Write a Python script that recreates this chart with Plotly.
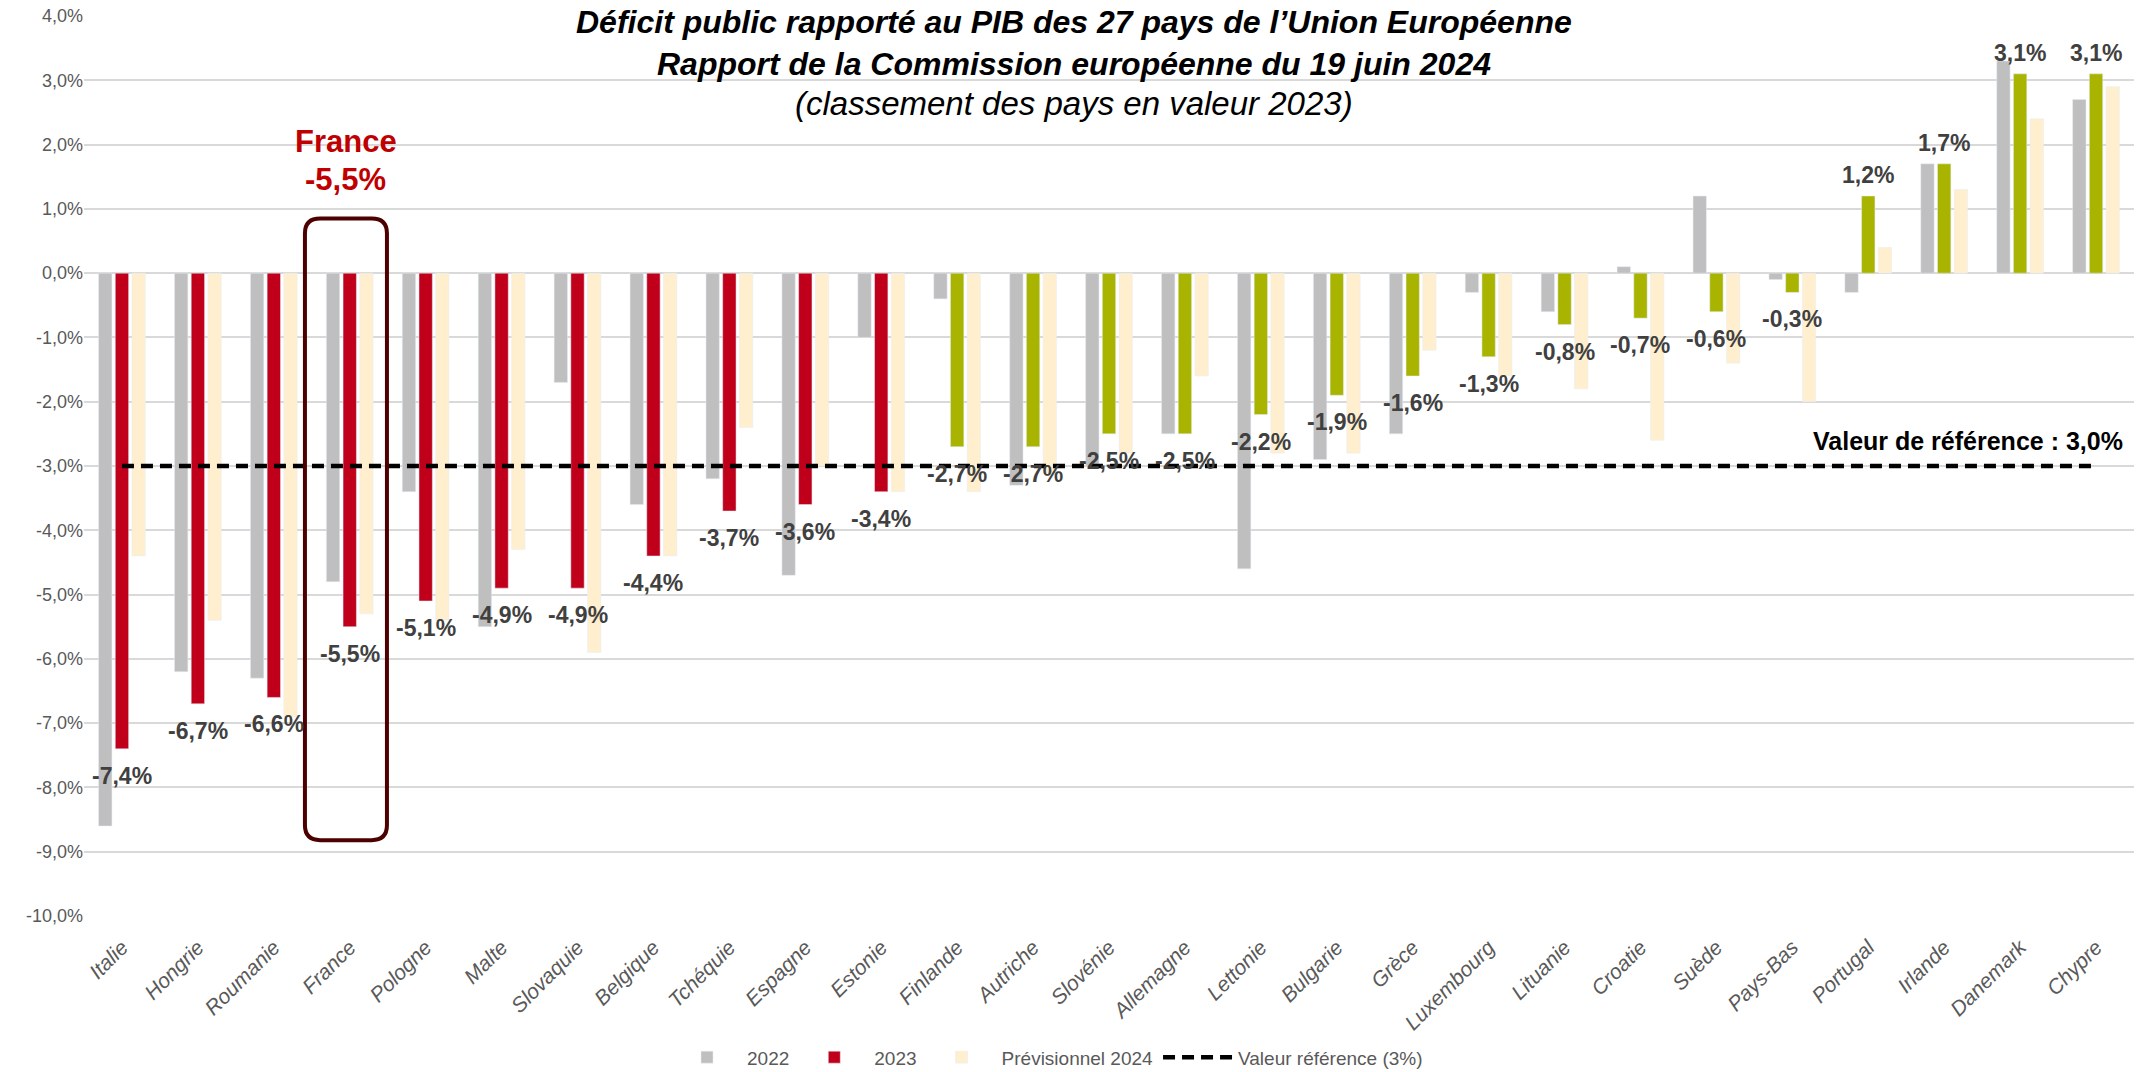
import plotly.graph_objects as go

# Déficit public (% du PIB) des 27 pays de l'UE, classés selon 2023
pays = ["Italie", "Hongrie", "Roumanie", "France", "Pologne", "Malte", "Slovaquie",
        "Belgique", "Tchéquie", "Espagne", "Estonie", "Finlande", "Autriche", "Slovénie",
        "Allemagne", "Lettonie", "Bulgarie", "Grèce", "Luxembourg", "Lituanie", "Croatie",
        "Suède", "Pays-Bas", "Portugal", "Irlande", "Danemark", "Chypre"]
deficit_2022 = [-8.6, -6.2, -6.3, -4.8, -3.4, -5.5, -1.7, -3.6, -3.2, -4.7, -1.0, -0.4, -3.3,
                -3.0, -2.5, -4.6, -2.9, -2.5, -0.3, -0.6, 0.1, 1.2, -0.1, -0.3, 1.7, 3.3, 2.7]
deficit_2023 = [-7.4, -6.7, -6.6, -5.5, -5.1, -4.9, -4.9, -4.4, -3.7, -3.6, -3.4, -2.7, -2.7,
                -2.5, -2.5, -2.2, -1.9, -1.6, -1.3, -0.8, -0.7, -0.6, -0.3, 1.2, 1.7, 3.1, 3.1]
deficit_2024 = [-4.4, -5.4, -6.9, -5.3, -5.4, -4.3, -5.9, -4.4, -2.4, -3.0, -3.4, -3.4, -3.1,
                -2.8, -1.6, -2.8, -2.8, -1.2, -1.6, -1.8, -2.6, -1.4, -2.0, 0.4, 1.3, 2.4, 2.9]
valeur_reference = -3.0
y_ticks = [4, 3, 2, 1, 0, -1, -2, -3, -4, -5, -6, -7, -8, -9, -10]

GRIS = "#BFBFBF"
ROUGE = "#C0001A"
VERT = "#A9B400"
CREME = "#FFEFCF"
TEXTE = "#595959"
ETIQ = "#404040"
FONT = "Liberation Sans"


def fr(v):
    return f"{v:.1f}%".replace(".", ",")


x = list(range(len(pays)))
# 2023 : rouge au-delà de la valeur de référence, vert sinon
couleurs_2023 = [ROUGE if v < valeur_reference else VERT for v in deficit_2023]

fig = go.Figure()
fig.add_trace(go.Bar(x=x, y=deficit_2022, name="2022", marker_color=GRIS))
fig.add_trace(go.Bar(x=x, y=deficit_2023, name="2023", marker_color=couleurs_2023))
fig.add_trace(go.Bar(x=x, y=deficit_2024, name="Prévisionnel 2024", marker_color=CREME))
fig.add_trace(go.Scatter(x=x, y=[valeur_reference] * len(x), mode="lines",
                         name="Valeur référence (3%)",
                         line=dict(color="black", width=4.5, dash="12px,7px")))

annotations = []
# étiquettes des valeurs 2023
for i, v in zip(x, deficit_2023):
    annotations.append(dict(
        x=i, y=v, xref="x", yref="y", text=fr(v), showarrow=False,
        yanchor="middle", yshift=(-27 if v < 0 else 21),
        font=dict(family=FONT, size=23, color=ETIQ, weight="bold")))

# titre
annotations += [
    dict(x=0.483, y=0.993, xref="paper", yref="paper", showarrow=False, yanchor="middle",
         text="Déficit public rapporté au PIB des 27 pays de l’Union Européenne",
         font=dict(family=FONT, size=32, color="black", weight="bold", style="italic")),
    dict(x=0.483, y=0.947, xref="paper", yref="paper", showarrow=False, yanchor="middle",
         text="Rapport de la Commission européenne du 19 juin 2024",
         font=dict(family=FONT, size=32, color="black", weight="bold", style="italic")),
    dict(x=0.483, y=0.903, xref="paper", yref="paper", showarrow=False, yanchor="middle",
         text="(classement des pays en valeur 2023)",
         font=dict(family=FONT, size=33, color="black", style="italic")),
]

# mise en évidence de la France
i_fr = pays.index("France")
annotations += [
    dict(x=i_fr - 0.05, y=2.05, xref="x", yref="y", showarrow=False, yanchor="middle",
         text="France", font=dict(family=FONT, size=31, color="#C00000", weight="bold")),
    dict(x=i_fr - 0.05, y=1.46, xref="x", yref="y", showarrow=False, yanchor="middle",
         text=fr(deficit_2023[i_fr]),
         font=dict(family=FONT, size=31, color="#C00000", weight="bold")),
    dict(x=0.9956, y=-2.61, xref="paper", yref="y", showarrow=False, xanchor="right",
         yanchor="middle", text=f"Valeur de référence : {fr(abs(valeur_reference))}",
         font=dict(family=FONT, size=25, color="black", weight="bold")),
]

# cadre arrondi autour de la France
x0, x1 = i_fr - 0.59, i_fr + 0.49
y0, y1 = -8.82, 0.85
rx, ry = 0.2, 0.23
path = (f"M {x0 + rx},{y1} L {x1 - rx},{y1} Q {x1},{y1} {x1},{y1 - ry} "
        f"L {x1},{y0 + ry} Q {x1},{y0} {x1 - rx},{y0} L {x0 + rx},{y0} "
        f"Q {x0},{y0} {x0},{y0 + ry} L {x0},{y1 - ry} Q {x0},{y1} {x0 + rx},{y1} Z")

fig.update_layout(
    width=2143, height=1072, autosize=False,
    margin=dict(l=84, r=9, t=16, b=156, autoexpand=False),
    paper_bgcolor="white", plot_bgcolor="white",
    barmode="group", bargap=0.34, bargroupgap=0.2,
    separators=", ",
    font=dict(family=FONT, color=TEXTE),
    annotations=annotations,
    shapes=[dict(type="path", path=path, xref="x", yref="y",
                 line=dict(color="#4D0000", width=4), fillcolor="rgba(0,0,0,0)")],
    legend=dict(orientation="h", x=0.47, xanchor="center", y=-0.157, yanchor="middle",
                font=dict(family=FONT, size=19, color=TEXTE), traceorder="normal",
                itemwidth=70),
    showlegend=True,
)
fig.update_xaxes(range=[-0.5, len(pays) - 0.5], tickvals=x, ticktext=pays, tickangle=-45,
                 tickfont=dict(family=FONT, size=21, color=TEXTE, style="italic"),
                 ticklabelstandoff=14, automargin=False,
                 showgrid=False, showline=False, zeroline=False, ticks="")
fig.update_yaxes(range=[-10, 4], tickvals=y_ticks, ticktext=[fr(v) for v in y_ticks],
                 tickfont=dict(family=FONT, size=18, color=TEXTE), automargin=False,
                 showgrid=True, gridcolor="#D9D9D9", gridwidth=1.5,
                 zeroline=True, zerolinecolor="#D9D9D9", zerolinewidth=1.5,
                 showline=False, ticks="")

fig.write_html("out.html")
